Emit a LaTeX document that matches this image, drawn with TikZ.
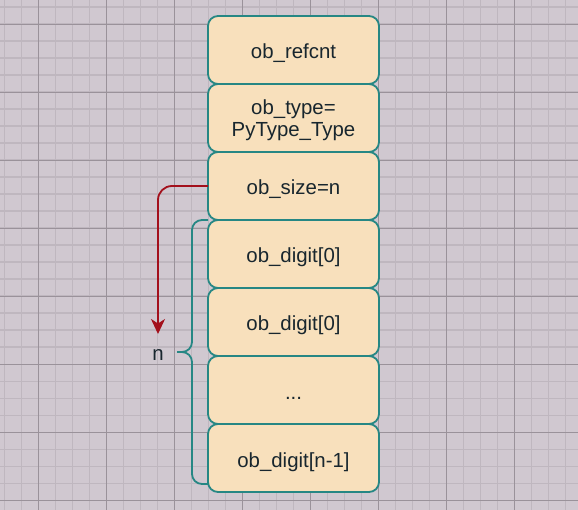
\documentclass[tikz,border=0pt]{standalone}
\usepackage{fontspec}
\setmainfont{Liberation Sans}
\usepackage{xcolor}
\definecolor{cFill}{HTML}{F8E0BC}
\definecolor{cEdge}{HTML}{268784}
\definecolor{cText}{HTML}{18262E}
\definecolor{cArrow}{HTML}{A3101C}
\definecolor{cBg}{HTML}{D0C8D0}
\definecolor{cMinor}{HTML}{BFB7BF}
\definecolor{cMajor}{HTML}{9A929A}
\usepackage{tikz}
\usetikzlibrary{positioning,arrows.meta}
\tikzset{
  node-field/.style={draw=cEdge,line width=1.8pt,fill=cFill,rounded corners=10pt,
    minimum width=171pt,minimum height=68pt,inner sep=0pt,outer sep=0pt,
    align=center,text=cText,font=\fontsize{20.4}{22}\selectfont,
    text height=18pt,text depth=0pt},
  node-label/.style={text=cText,font=\fontsize{20.4}{22}\selectfont},
  arrow-len/.style={-{Stealth[length=15pt,width=14pt,inset=4.5pt]},line width=1.8pt,
    draw=cArrow,rounded corners=14pt},
  brace-len/.style={draw=cEdge,line width=1.8pt,rounded corners=10pt},
  grid-minor/.style={draw=cMinor,line width=1.6pt},
  grid-major/.style={draw=cMajor,line width=0.9pt},
}

\begin{document}
\begin{tikzpicture}[x=1pt,y=-1pt]
  \fill[cBg] (0,0) rectangle (578,510);
  \useasboundingbox (0,0) rectangle (578,510);
  % grid
  \foreach \gx in {4.3,21.3,...,578} \draw[grid-minor] (\gx,0) -- (\gx,510);
  \foreach \gy in {7.3,24.3,...,510} \draw[grid-minor] (0,\gy) -- (578,\gy);
  \foreach \gx in {38.3,106.3,...,578} \draw[grid-major] (\gx,0) -- (\gx,510);
  \foreach \gy in {24.3,92.3,...,510} \draw[grid-major] (0,\gy) -- (578,\gy);

  \node[node-field] (refcnt) at (293.5,50) {ob\_refcnt};
  \node[node-field,below=0pt of refcnt,text height=38pt] (type)
    {ob\_type=\\PyType\_Type};
  \node[node-field,below=0pt of type] (size) {ob\_size=n};
  \node[node-field,below=0pt of size] (digit0) {ob\_digit[0]};
  \node[node-field,below=0pt of digit0] (digit1) {ob\_digit[0]};
  \node[node-field,below=0pt of digit1] (dots) {...};
  \node[node-field,below=0pt of dots] (digitn) {ob\_digit[n-1]};

  \node[node-label] (n-label) at (158,355) {n};
  \coordinate (len-tip) at (158,334);
  \coordinate (brace-tip) at (177,352);

  \draw[arrow-len] (size.west) -| (len-tip);
  \draw[brace-len] (digit0.north west) -| ([xshift=15pt]brace-tip) -- (brace-tip);
  \draw[brace-len] (brace-tip) -- ([xshift=15pt]brace-tip) |- ([yshift=8pt]digitn.south west);
\end{tikzpicture}
\end{document}
